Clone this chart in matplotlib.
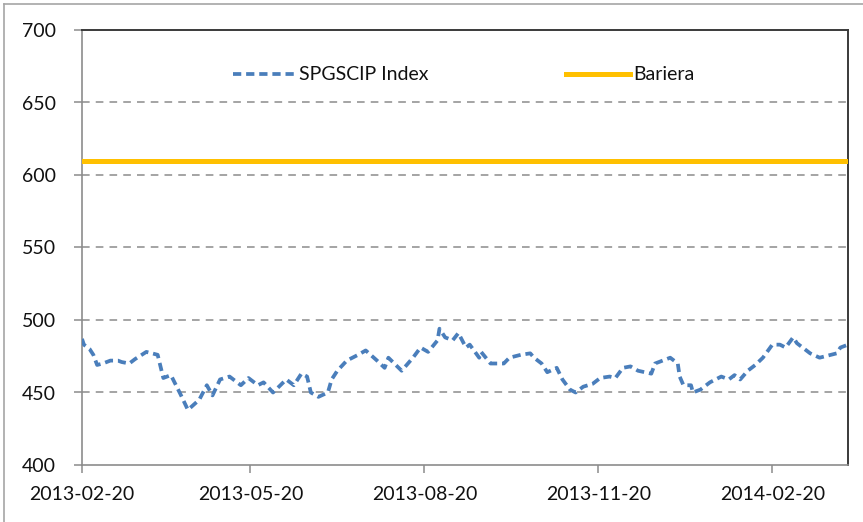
import numpy as np
import pandas as pd
import matplotlib
matplotlib.use("Agg")
import matplotlib.pyplot as plt
import matplotlib.dates as mdates
from matplotlib.lines import Line2D

plt.rcParams['font.family'] = ['Lato', 'DejaVu Sans']

# SPGSCIP Index
dates = ["2013-02-20", "2013-02-21", "2013-02-24", "2013-02-26", "2013-02-28", "2013-03-03",
         "2013-03-07", "2013-03-11", "2013-03-13", "2013-03-17", "2013-03-20", "2013-03-26",
         "2013-04-01", "2013-04-04", "2013-04-08", "2013-04-13", "2013-04-17", "2013-04-23",
         "2013-04-27", "2013-04-30", "2013-05-04", "2013-05-09", "2013-05-15", "2013-05-19",
         "2013-05-24", "2013-05-27", "2013-06-01", "2013-06-08", "2013-06-12", "2013-06-16",
         "2013-06-19", "2013-06-21", "2013-06-25", "2013-06-30", "2013-07-02", "2013-07-05",
         "2013-07-10", "2013-07-16", "2013-07-20", "2013-07-26", "2013-07-30", "2013-08-01",
         "2013-08-08", "2013-08-14", "2013-08-18", "2013-08-22", "2013-08-27", "2013-08-28",
         "2013-08-31", "2013-09-04", "2013-09-07", "2013-09-11", "2013-09-13", "2013-09-18",
         "2013-09-19", "2013-09-24", "2013-10-01", "2013-10-04", "2013-10-10", "2013-10-15",
         "2013-10-17", "2013-10-21", "2013-10-24", "2013-10-29", "2013-11-01", "2013-11-05",
         "2013-11-08", "2013-11-12", "2013-11-17", "2013-11-21", "2013-11-26", "2013-11-29",
         "2013-12-03", "2013-12-07", "2013-12-11", "2013-12-18", "2013-12-20", "2013-12-24",
         "2013-12-28", "2014-01-01", "2014-01-02", "2014-01-04", "2014-01-08", "2014-01-09",
         "2014-01-13", "2014-01-18", "2014-01-24", "2014-01-28", "2014-01-31", "2014-02-03",
         "2014-02-07", "2014-02-11", "2014-02-15", "2014-02-20", "2014-02-24", "2014-02-27",
         "2014-03-03", "2014-03-05", "2014-03-08", "2014-03-12", "2014-03-17", "2014-03-23",
         "2014-03-26", "2014-03-28", "2014-04-01"]
index_values = [487, 483, 480, 476, 469, 470,
                472, 472, 471, 470, 473, 478,
                476, 460, 462, 449, 438, 445,
                455, 448, 459, 461, 455, 460,
                455, 457, 450, 459, 455, 463,
                461, 450, 447, 450, 459, 465,
                472, 476, 479, 472, 467, 474,
                465, 474, 481, 478, 486, 494,
                488, 486, 491, 481, 483, 474,
                478, 470, 470, 474, 476, 477,
                474, 470, 464, 467, 459, 452,
                450, 454, 456, 460, 461, 460,
                467, 468, 465, 463, 470, 472,
                474, 470, 461, 455, 455, 450,
                452, 457, 461, 459, 462, 459,
                465, 469, 474, 483, 483, 481,
                488, 484, 481, 477, 474, 476,
                477, 481, 483]
barrier = 609.5

tick_dates = ["2013-02-20", "2013-05-20", "2013-08-20", "2013-11-20", "2014-02-20"]

W, H = 863, 522
blue = '#4A7EBB'
gold = '#FFC000'
dash = (0, (2.2, 1.3))

x = pd.to_datetime(dates)

fig = plt.figure(figsize=(W / 100, H / 100), dpi=100)
ax = fig.add_axes([82 / W, 57 / H, 766 / W, 435 / H])

ax.plot(x, index_values, color=blue, lw=2.7, linestyle=dash, zorder=3)
ax.axhline(barrier, color=gold, lw=3.6, zorder=3)

ax.set_ylim(400, 700)
ax.set_yticks(np.arange(400, 701, 50))
ax.set_xlim(pd.Timestamp("2013-02-20"), pd.Timestamp("2014-04-01"))
ax.set_xticks(pd.to_datetime(tick_dates))
ax.xaxis.set_major_formatter(mdates.DateFormatter('%Y-%m-%d'))

for yv in [450, 500, 550, 600, 650]:
    ax.axhline(yv, color='#8C8C8C', lw=1.1, linestyle=(0, (5, 4)), zorder=1)

for side in ['left', 'bottom']:
    ax.spines[side].set_color('#8C8C8C')
    ax.spines[side].set_linewidth(1.2)
for side in ['top', 'right']:
    ax.spines[side].set_color('#3A3A3A')
    ax.spines[side].set_linewidth(1.4)

ax.tick_params(axis='both', direction='out', length=6, color='#8C8C8C', width=1.1,
               labelsize=14, labelcolor='#111111')
ax.tick_params(axis='y', pad=13)
ax.tick_params(axis='x', pad=9)

# legend, placed by hand
ly = 1 - 74 / H
fig.add_artist(Line2D([233 / W, 297 / W], [ly, ly], color=blue, lw=2.7, linestyle=dash))
fig.text(299 / W, ly, 'SPGSCIP Index', fontsize=14, va='center', ha='left', color='#111111')
fig.add_artist(Line2D([566 / W, 630 / W], [ly, ly], color=gold, lw=3.6))
fig.text(633 / W, ly, 'Bariera', fontsize=14, va='center', ha='left', color='#111111')

# outer chart border
fig.add_artist(Line2D([4 / W, 4 / W], [0, 1 - 4 / H], color='#A6A6A6', lw=1.2))
fig.add_artist(Line2D([4 / W, 1], [1 - 4 / H, 1 - 4 / H], color='#A6A6A6', lw=1.2))

fig.savefig('out.png', dpi=100)
